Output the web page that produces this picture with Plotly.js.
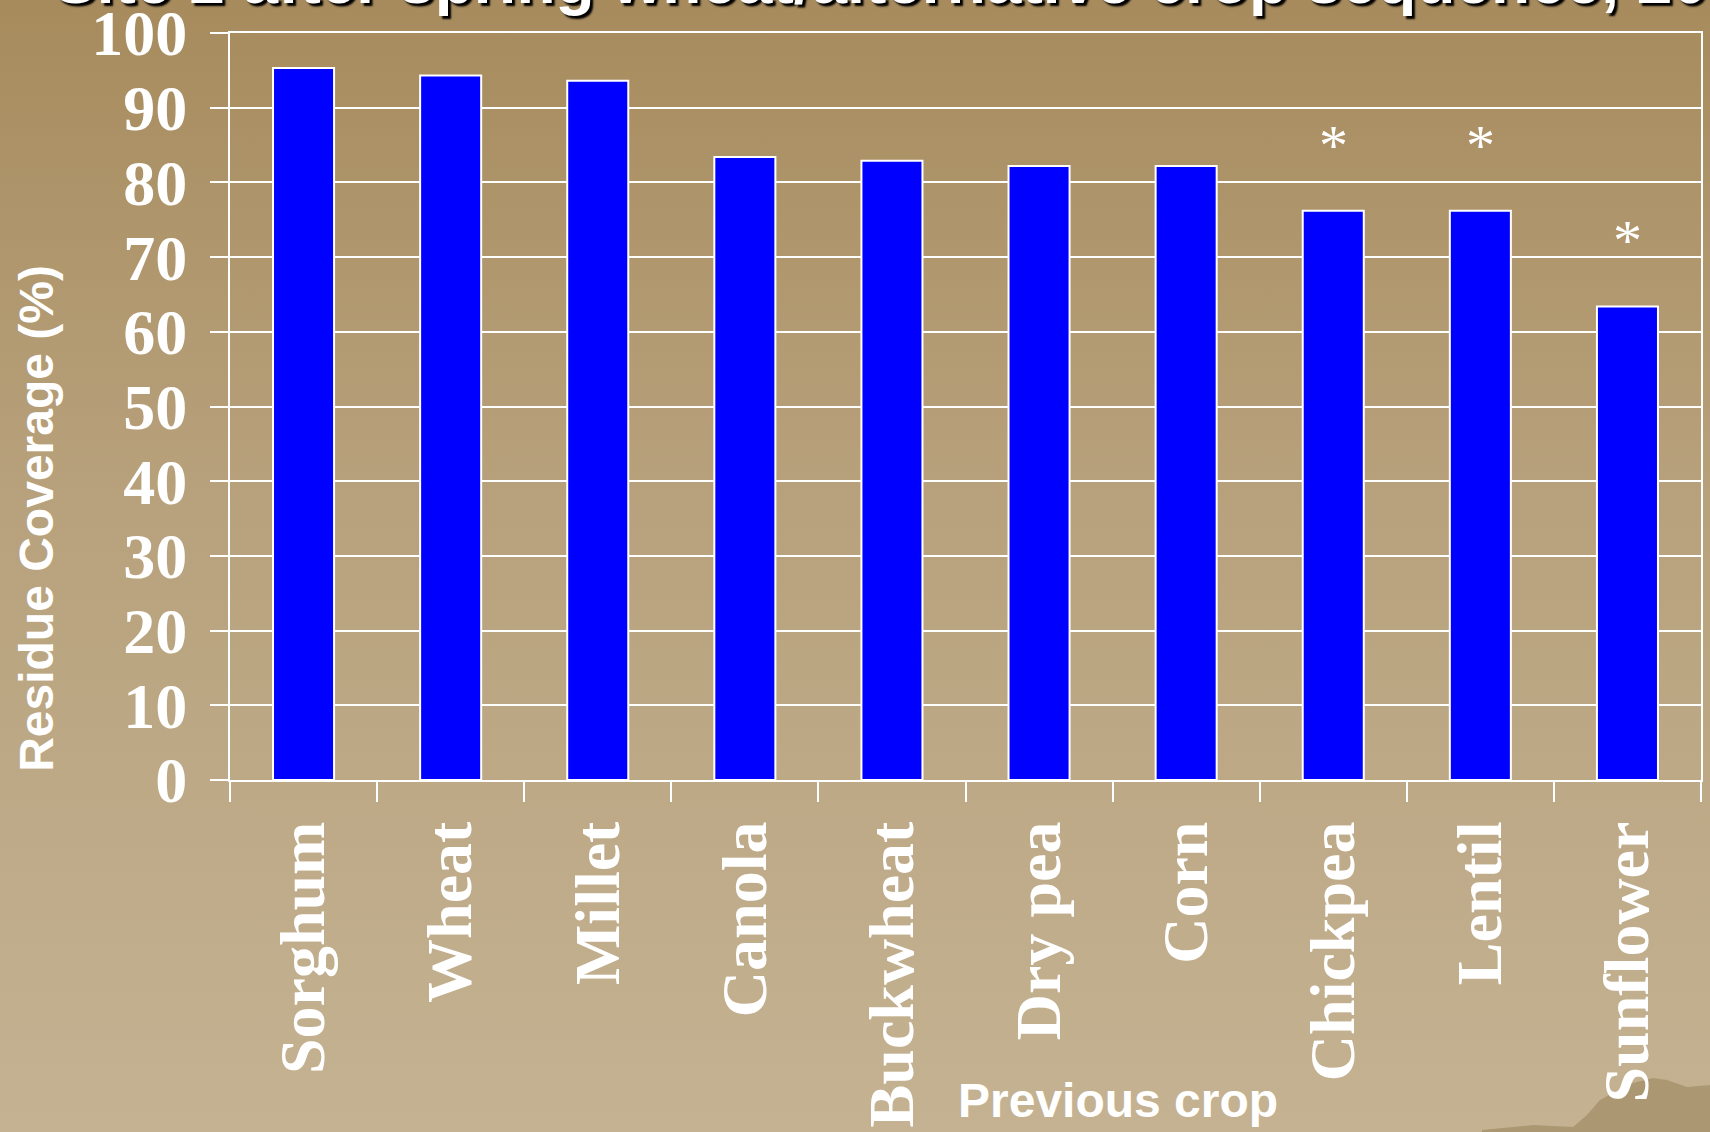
<!DOCTYPE html>
<html>
<head>
<meta charset="utf-8">
<script src="https://cdn.plot.ly/plotly-3.0.1.min.js"></script>
<style>
html, body { margin: 0; padding: 0; width: 1710px; height: 1132px; overflow: hidden; }
body {
  background:
    url("data:image/svg+xml;utf8,<svg xmlns='http://www.w3.org/2000/svg' width='1710' height='1132'><path d='M1482 1132 L1482 1130 L1533 1125 L1573 1127 L1587 1115 L1600 1100 L1613 1093 L1633 1083 L1653 1078 L1667 1080 L1687 1087 L1710 1085 L1710 1132 Z' fill='%23ab9872'/></svg>") no-repeat,
    linear-gradient(to bottom, #a78b5d 0%, #b8a27d 45%, #c4b292 100%);
}
#chart { width: 1710px; height: 1132px; }
</style>
</head>
<body>
<div id="chart"></div>
<script>
const crops = ['Sorghum', 'Wheat', 'Millet', 'Canola', 'Buckwheat', 'Dry pea', 'Corn', 'Chickpea', 'Lentil', 'Sunflower'];
const coverage = [95.3, 94.3, 93.6, 83.4, 82.9, 82.2, 82.2, 76.2, 76.2, 63.4];
const significance = ['', '', '', '', '', '', '', '*', '*', '*'];
const yTicks = [0, 10, 20, 30, 40, 50, 60, 70, 80, 90, 100];
const titleText = 'Site 2 after spring wheat/alternative crop sequence, 2010';

const serif = 'Times New Roman, Liberation Serif, serif';
const sans = 'Arial, Liberation Sans, sans-serif';

const annotations = [];
crops.forEach((c, i) => {
  if (significance[i]) {
    annotations.push({
      x: c, y: coverage[i] + 8.8, xref: 'x', yref: 'y',
      text: significance[i], showarrow: false,
      font: {family: serif, size: 58, color: '#ffffff'},
      yanchor: 'middle'
    });
  }
});
annotations.push({
  xref: 'paper', yref: 'paper', x: 0.6037, y: -0.4297,
  text: 'Previous crop', showarrow: false,
  font: {family: sans, size: 48, color: '#ffffff', weight: 'bold'},
  xanchor: 'center', yanchor: 'middle'
});
annotations.push({
  xref: 'paper', yref: 'paper', x: -0.132, y: 0.3507,
  text: 'Residue Coverage (%)', showarrow: false, textangle: -90,
  font: {family: sans, size: 48, color: '#ffffff', weight: 'bold'},
  xanchor: 'center', yanchor: 'middle'
});
annotations.push({
  xref: 'paper', yref: 'paper', x: -0.121, y: 1.0,
  text: titleText, showarrow: false,
  font: {family: sans, size: 64, color: '#ffffff', weight: 'bold', shadow: '3px 3px 2px #000000'},
  xanchor: 'left', yanchor: 'bottom', yshift: 14
});

const trace = {
  type: 'bar',
  x: crops,
  y: coverage,
  marker: {color: '#0000ff', line: {color: '#ffffff', width: 2}},
  hoverinfo: 'x+y'
};

const layout = {
  width: 1710, height: 1132,
  paper_bgcolor: 'rgba(0,0,0,0)',
  plot_bgcolor: 'rgba(0,0,0,0)',
  margin: {l: 230, r: 9, t: 33, b: 352},
  bargap: 0.585,
  showlegend: false,
  xaxis: {
    type: 'category',
    tickangle: -90,
    tickfont: {family: serif, size: 64, color: '#ffffff', weight: 'bold'},
    showline: true, mirror: true, linecolor: '#ffffff', linewidth: 2,
    ticks: 'outside', ticklen: 20, tickwidth: 2, tickcolor: '#ffffff',
    tickson: 'boundaries',
    ticklabelstandoff: 14,
    showgrid: false,
    range: [-0.5, 9.5]
  },
  yaxis: {
    range: [0, 100],
    tickvals: yTicks,
    tickfont: {family: serif, size: 64, color: '#ffffff', weight: 'bold'},
    ticklabeloverflow: 'allow',
    showline: true, mirror: true, linecolor: '#ffffff', linewidth: 2,
    ticks: 'outside', ticklen: 18, tickwidth: 2, tickcolor: '#ffffff',
    ticklabelstandoff: 10,
    showgrid: true, gridcolor: '#ffffff', gridwidth: 2,
    zeroline: false
  },
  annotations: annotations
};

Plotly.newPlot('chart', [trace], layout, {displayModeBar: false, staticPlot: false});
</script>
</body>
</html>
